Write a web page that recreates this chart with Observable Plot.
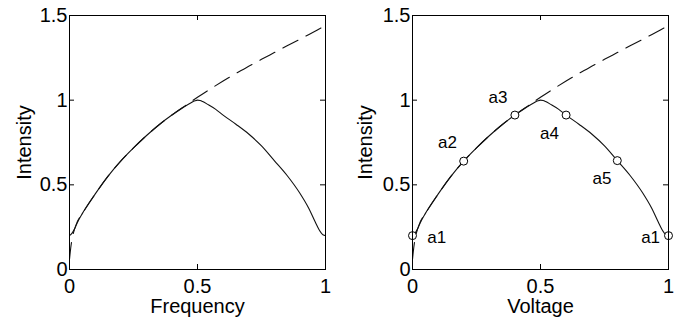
<!DOCTYPE html>
<html>
<head>
<meta charset="utf-8">
<script src="https://cdn.jsdelivr.net/npm/d3@7"></script>
<script src="https://cdn.jsdelivr.net/npm/@observablehq/plot@0.6"></script>
<style>
  html, body { margin: 0; padding: 0; background: #fff; }
  #wrap { display: flex; width: 679px; height: 320px; }
  svg { font-family: "Liberation Sans", Arial, sans-serif; }
</style>
</head>
<body>
<div id="wrap"></div>
<script>
// Dashed curve
const dashX = [0, 0.005, 0.01, 0.02, 0.03, 0.05, 0.1, 0.15, 0.2, 0.25, 0.3, 0.35, 0.4, 0.45, 0.5, 0.55, 0.6, 0.65, 0.7, 0.75, 0.8, 0.85, 0.9, 0.95, 1];
const dashY = [0.06, 0.13, 0.18, 0.24, 0.28, 0.33, 0.445, 0.55, 0.64, 0.718, 0.79, 0.855, 0.912, 0.965, 1.017, 1.066, 1.113, 1.158, 1.2, 1.241, 1.281, 1.321, 1.36, 1.4, 1.44];
// Solid curve
const solidX = [0, 0.01, 0.02, 0.03, 0.05, 0.1, 0.15, 0.2, 0.25, 0.3, 0.35, 0.4, 0.45, 0.475, 0.49, 0.5, 0.51, 0.52, 0.54, 0.57, 0.6, 0.65, 0.7, 0.75, 0.8, 0.85, 0.9, 0.935, 0.96, 0.975, 0.99, 1];
const solidY = [0.20, 0.215, 0.24, 0.275, 0.33, 0.445, 0.55, 0.64, 0.718, 0.79, 0.855, 0.912, 0.963, 0.985, 0.996, 1.0, 0.998, 0.992, 0.975, 0.947, 0.912, 0.858, 0.80, 0.73, 0.643, 0.555, 0.45, 0.36, 0.28, 0.235, 0.205, 0.20];
// Markers (right panel)
const markX = [0, 0.2, 0.4, 0.6, 0.8, 1];
const markY = [0.2, 0.64, 0.912, 0.912, 0.643, 0.2];
// Labels (right panel)
const labelText = ["a1", "a2", "a3", "a4", "a5", "a1"];
const labelX = [0.095, 0.137, 0.334, 0.535, 0.74, 0.93];
const labelY = [0.19, 0.75, 1.016, 0.80, 0.537, 0.19];
// Ticks
const xTicks = [0, 0.5, 1];
const yTicks = [0, 0.5, 1, 1.5];

const dashed = dashX.map((x, i) => ({x, y: dashY[i]}));
const solid = solidX.map((x, i) => ({x, y: solidY[i]}));
const marks = markX.map((x, i) => ({x, y: markY[i]}));
const labels = labelText.map((t, i) => ({t, x: labelX[i], y: labelY[i]}));

const H = 320, MT = 15, MB = 51;
const FH = H - MT - MB; // frame height
function panel(width, ml, mr, xlabel, ylabelOffset, extra) {
  const FW = width - ml - mr;
  return Plot.plot({
    width, height: H,
    marginLeft: ml, marginRight: mr, marginTop: MT, marginBottom: MB,
    style: {fontFamily: "Liberation Sans, Arial, sans-serif", background: "white", color: "black", overflow: "visible"},
    x: {domain: [0, 1]},
    y: {domain: [0, 1.5]},
    marks: [
      Plot.line(dashed, {x: "x", y: "y", stroke: "#111", strokeWidth: 1.1, strokeDasharray: "17,9", curve: "monotone-x"}),
      Plot.line(solid, {x: "x", y: "y", stroke: "#111", strokeWidth: 1.1, curve: "monotone-x"}),
      ...extra,
      Plot.frame({stroke: "black", strokeWidth: 1}),
      Plot.tickX(xTicks, {x: d => d, insetTop: FH - 5, stroke: "black"}),
      Plot.tickX(xTicks, {x: d => d, insetBottom: FH - 5, stroke: "black"}),
      Plot.tickY(yTicks, {y: d => d, insetRight: FW - 5, stroke: "black"}),
      Plot.tickY(yTicks, {y: d => d, insetLeft: FW - 5, stroke: "black"}),
      Plot.axisX(xTicks, {tickSize: 0, tickPadding: 9, fontSize: 20, tickFormat: d => String(d),
        label: xlabel, labelAnchor: "center", labelArrow: "none", labelOffset: 43}),
      Plot.axisY(yTicks, {tickSize: 0, tickPadding: 2, fontSize: 20, tickFormat: d => String(d),
        label: "Intensity", labelAnchor: "center", labelArrow: "none", labelOffset: ylabelOffset})
    ]
  });
}

const left = panel(340, 69, 15, "Frequency", 53, []);
const right = panel(339, 72, 11, "Voltage", 55, [
  Plot.dot(marks, {x: "x", y: "y", r: 4, stroke: "black", fill: "white", strokeWidth: 1}),
  Plot.text(labels, {x: "x", y: "y", text: "t", fontSize: 17, fill: "black"})
]);
document.getElementById("wrap").append(left, right);
</script>
</body>
</html>
